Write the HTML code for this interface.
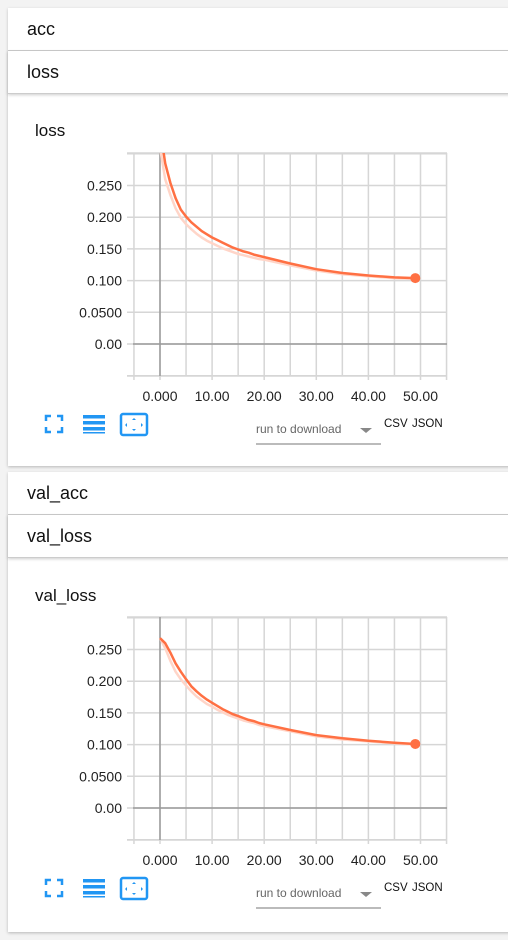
<!DOCTYPE html>
<html><head><meta charset="utf-8"><style>
body{margin:0;width:508px;height:940px;background:#f3f3f3;font-family:"Liberation Sans",Arial,sans-serif;position:relative;overflow:hidden}
.card{position:absolute;left:8px;width:510px;background:#fff;box-shadow:0 1px 3px rgba(0,0,0,.25)}
.hdr{position:absolute;left:8px;width:510px;height:43px;background:#fff;border-bottom:1px solid #ccc;box-shadow:0 1px 3px rgba(0,0,0,.2);font-size:18px;line-height:43px;box-sizing:border-box;padding-left:19px;color:#111}
.title{position:absolute;left:35px;font-size:17px;color:#111}
svg{position:absolute;left:0;top:0}
</style></head><body>
<div class="card" style="top:51px;height:415px"></div>
<div class="card" style="top:515px;height:417px"></div>
<div class="hdr" style="top:8px">acc</div>
<div class="hdr" style="top:51px">loss</div>
<div class="hdr" style="top:472px">val_acc</div>
<div class="hdr" style="top:515px">val_loss</div>
<div class="title" style="top:121px">loss</div>
<div class="title" style="top:586px">val_loss</div>
<svg id="s" width="508" height="940"></svg>
<script>
const epochs=[0,1,2,3,4,5,6,7,8,9,10,11,12,13,14,15,16,17,18,19,20,25,30,35,40,45,49];
const lossSmooth=[0.34,0.285,0.254,0.23,0.212,0.201,0.192,0.185,0.178,0.173,0.168,0.164,0.160,0.156,0.152,0.149,0.146,0.144,0.141,0.139,0.137,0.127,0.118,0.112,0.108,0.105,0.104];
const lossRaw=[0.31,0.26,0.235,0.214,0.199,0.189,0.181,0.174,0.168,0.163,0.159,0.155,0.151,0.148,0.145,0.142,0.140,0.138,0.136,0.134,0.133,0.124,0.116,0.110,0.107,0.104,0.103];
const valSmooth=[0.268,0.26,0.245,0.228,0.215,0.203,0.192,0.184,0.177,0.171,0.166,0.161,0.156,0.152,0.148,0.145,0.142,0.139,0.137,0.134,0.132,0.123,0.115,0.110,0.106,0.103,0.101];
const valRaw=[0.268,0.252,0.232,0.215,0.203,0.193,0.184,0.176,0.170,0.164,0.160,0.155,0.151,0.147,0.144,0.141,0.138,0.136,0.134,0.131,0.129,0.121,0.113,0.108,0.105,0.102,0.100];
const yTicks=[0,0.05,0.1,0.15,0.2,0.25];
const yTickLabels=["0.00","0.0500","0.100","0.150","0.200","0.250"];
const xTicks=[0,10,20,30,40,50];
const xTickLabels=["0.000","10.00","20.00","30.00","40.00","50.00"];
const NS="http://www.w3.org/2000/svg",svg=document.getElementById('s');
function mk(t,a,p){const e=document.createElementNS(NS,t);for(const k in a)e.setAttribute(k,a[k]);(p||svg).appendChild(e);return e;}
function chart(off,smooth,raw,nm){
  const sx=v=>160+v*5.21, sy=v=>off+344-v*634;
  const g=mk('g',{});
  
  
  const top=off+153,bot=off+376;
  const gc='#d6d6d6';
  for(let v=-5;v<=55;v+=5)mk('line',{x1:sx(v),x2:sx(v),y1:top,y2:bot+(v%10==0||v==-5||v==55?4:0),stroke:gc,'stroke-width':1.5},g);
  for(let v=-0.05;v<=0.35;v+=0.05){const y=sy(v);if(y<top-1||y>bot+1)continue;mk('line',{x1:127,x2:447,y1:y,y2:y,stroke:gc,'stroke-width':1.5},g);}
  mk('line',{x1:127,x2:447,y1:top,y2:top,stroke:gc,'stroke-width':1.5},g);
  mk('line',{x1:127,x2:447,y1:bot,y2:bot,stroke:gc,'stroke-width':1.5},g);
  mk('line',{x1:133,x2:447,y1:sy(0),y2:sy(0),stroke:'#999','stroke-width':1.5},g);
  mk('line',{x1:sx(0),x2:sx(0),y1:top,y2:bot,stroke:'#999','stroke-width':1.5},g);
  yTicks.forEach((v,i)=>{const t=mk('text',{x:122,y:sy(v)+5,'text-anchor':'end','font-size':14,fill:'#222'},g);t.textContent=yTickLabels[i];
    });
  xTicks.forEach((v,i)=>{const t=mk('text',{x:sx(v),y:off+401,'text-anchor':'middle','font-size':14,fill:'#222'},g);t.textContent=xTickLabels[i];
    });
  const cp=mk('clipPath',{id:'c'+off},g);mk('rect',{x:133,y:top,width:314,height:bot-top},cp);
  const path=a=>a.map((v,i)=>(i?'L':'M')+sx(epochs[i]).toFixed(1)+','+sy(v).toFixed(1)).join('');
  const r=mk('path',{d:path(raw),fill:'none',stroke:'#ffd5c8','stroke-width':2.5,'stroke-linejoin':'round','clip-path':'url(#c'+off+')'},g);
  
  const l=mk('path',{d:path(smooth),fill:'none',stroke:'#ff7043','stroke-width':2.5,'stroke-linejoin':'round','clip-path':'url(#c'+off+')'},g);
  
  const n=smooth.length-1;
  const d=mk('circle',{cx:sx(epochs[n]),cy:sy(smooth[n]),r:5,fill:'#ff7043'},g);
  
  const b=off+425;
  const f=mk('g',{fill:'none',stroke:'#2196f3','stroke-width':2.5},g);
  
  mk('path',{d:`M46 ${b-4}v-5h5M57 ${b-9}h5v5M62 ${b+2}v5h-5M51 ${b+7}h-5v-5`},f);
  const m=mk('g',{fill:'#2196f3'},g);
  
  [ -10,-4,2].forEach(dy=>mk('rect',{x:83,y:b+dy,width:22,height:3.5},m));mk('rect',{x:83,y:b+7,width:22,height:1.5},m);
  const fit=mk('g',{},g);
  
  mk('rect',{x:121,y:b-11,width:26,height:21,rx:2,fill:'none',stroke:'#2196f3','stroke-width':2.5},fit);
  mk('path',{d:`M134 ${b-7}l-2 2h4zM134 ${b+6}l-2 -2h4zM125 ${b}l2 -2v4zM143 ${b}l-2 -2v4z`,fill:'#2196f3'},fit);
  const dd=mk('text',{x:256,y:b+8,'font-size':12,fill:'#666'},g);dd.textContent='run to download';
  
  mk('path',{d:`M360 ${b+3}h12l-6 5z`,fill:'#888'},g);
  mk('line',{x1:256,x2:381,y1:b+19,y2:b+19,stroke:'#777','stroke-width':1},g);
  const c=mk('text',{x:384,y:b+2,'font-size':11.5,fill:'#111'},g);c.textContent='CSV';
  
  const j=mk('text',{x:412,y:b+2,'font-size':11.5,fill:'#111'},g);j.textContent='JSON';
  
}
chart(0,lossSmooth,lossRaw,'loss');
chart(464,valSmooth,valRaw,'val-loss');
</script>
</body></html>
